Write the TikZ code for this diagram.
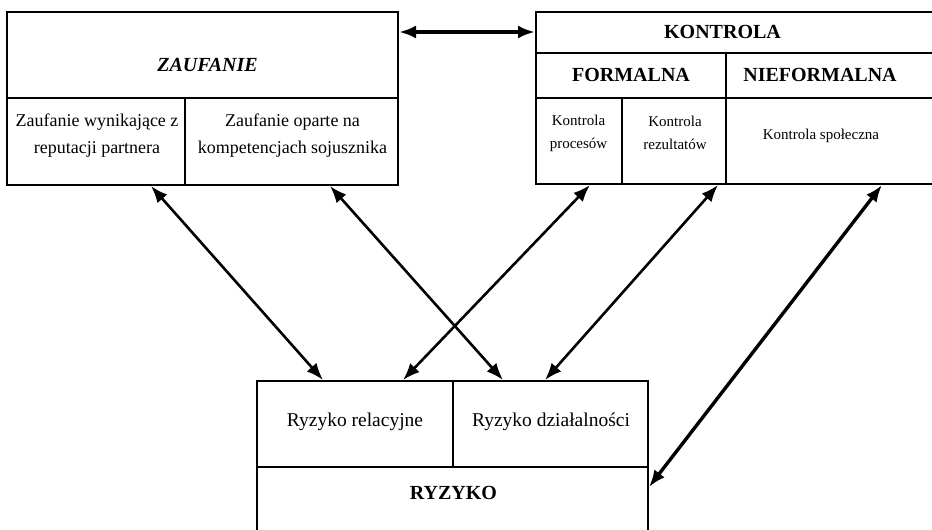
\documentclass[tikz,border=0pt]{standalone}
\usepackage{fontspec}
\setmainfont{Liberation Serif}
\usetikzlibrary{arrows.meta}

\tikzset{
  frame/.style={line width=2pt, line cap=rect},
  txt/.style={inner sep=0pt, align=center},
  head/.style={txt, font=\fontsize{20}{24}\selectfont\bfseries},
  zsub/.style={txt, font=\fontsize{18}{27}\selectfont},
  ksub/.style={txt, font=\fontsize{15}{23}\selectfont},
  rsub/.style={txt, font=\fontsize{19.5}{24}\selectfont},
  tip/.tip={Latex[length=17pt,width=13pt]},
  link/.style={line width=2.6pt, tip-tip},
  biglink/.style={link, line width=3.4pt},
}

\begin{document}
\begin{tikzpicture}[x=1pt, y=-1pt]
\useasboundingbox[fill=white] (0,0) rectangle (932,530);

% ZAUFANIE block
\draw[frame] (7,12) rectangle (398,185);
\draw[frame] (7,98) -- (398,98);
\draw[frame] (185,98) -- (185,185);

% KONTROLA block (open to the right)
\draw[frame] (945,12) -- (536,12) -- (536,184) -- (945,184);
\draw[frame] (536,53) -- (945,53);
\draw[frame] (536,98) -- (945,98);
\draw[frame] (726,53) -- (726,184);
\draw[frame] (622,98) -- (622,184);

% RYZYKO block (open at the bottom)
\draw[frame] (257,545) -- (257,381) -- (648,381) -- (648,545);
\draw[frame] (257,467) -- (648,467);
\draw[frame] (453,381) -- (453,467);

% texts
\node[head, font=\fontsize{20}{24}\selectfont\bfseries\itshape] (zauf) at (207.5,65) {ZAUFANIE};
\node[zsub] (zrep) at (97,136) {Zaufanie wynikające z\\reputacji partnera};
\node[zsub] (zkomp) at (292.5,136) {Zaufanie oparte na\\kompetencjach sojusznika};

\node[head] (kontr) at (722.5,32) {KONTROLA};
\node[head] (kform) at (631,75) {FORMALNA};
\node[head] (knieform) at (820,75) {NIEFORMALNA};
\node[ksub] (kproc) at (578.5,133) {Kontrola\\procesów};
\node[ksub] (krez) at (675,133) {Kontrola\\rezultatów};
\node[ksub] (kspol) at (821,136) {Kontrola społeczna};

\node[rsub] (rrel) at (355,422) {Ryzyko relacyjne};
\node[rsub] (rdzial) at (551,422) {Ryzyko działalności};
\node[head] (ryzyko) at (453.5,493) {RYZYKO};

% connector end points on the block edges
\coordinate (zauf-r) at (399,32);
\coordinate (kontr-l) at (535,32);
\coordinate (zrep-b) at (151,186);
\coordinate (zkomp-b) at (330,186);
\coordinate (kproc-b) at (590,185);
\coordinate (krez-b) at (718,185);
\coordinate (kspol-b) at (882,185);
\coordinate (rrel-t1) at (323,380);
\coordinate (rrel-t2) at (403,380);
\coordinate (rdzial-t1) at (503,380);
\coordinate (rdzial-t2) at (545,380);
\coordinate (ryzyko-r) at (649,487);

% connectors
\draw[biglink] (zauf-r) -- (kontr-l);
\draw[link] (zrep-b) -- (rrel-t1);
\draw[link] (zkomp-b) -- (rdzial-t1);
\draw[link] (kproc-b) -- (rrel-t2);
\draw[link] (krez-b) -- (rdzial-t2);
\draw[biglink] (kspol-b) -- (ryzyko-r);
\end{tikzpicture}
\end{document}
